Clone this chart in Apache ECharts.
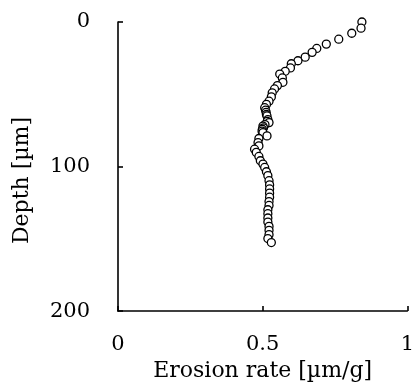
<!DOCTYPE html>
<html>
<head>
<meta charset="utf-8">
<script src="https://cdn.jsdelivr.net/npm/echarts@6/dist/echarts.min.js"></script>
<style>
html,body{margin:0;padding:0;background:#fff;}
#chart{width:417px;height:387px;}
</style>
</head>
<body>
<div id="chart"></div>
<script>
// Depth [µm] and erosion rate [µm/g]
var depth = [0, 4.3, 7.8, 11.9, 15.3, 18.3, 21, 24.3, 26.8, 28.9, 31.8, 34.1, 36, 38.7, 41.7, 44, 46.3, 49, 51.8, 54.8, 57, 59.3, 61, 62.5, 64, 65, 67.5, 68.8, 69.6, 71, 72, 73.2, 74.2, 75.5, 76.5, 78.8, 80.6, 83.4, 85.7, 88, 90.2, 93, 96, 98.3, 100.6, 103.6, 106.3, 109.8, 112.7, 115.5, 118.4, 121.2, 124.2, 126.9, 129.9, 132.6, 135.6, 138.4, 141.4, 144.1, 147.1, 149.8, 152.6];
var rate = [0.843, 0.840, 0.808, 0.763, 0.72, 0.687, 0.671, 0.647, 0.622, 0.599, 0.596, 0.578, 0.559, 0.568, 0.570, 0.551, 0.541, 0.533, 0.530, 0.522, 0.513, 0.507, 0.510, 0.512, 0.513, 0.515, 0.518, 0.516, 0.522, 0.508, 0.501, 0.503, 0.499, 0.498, 0.501, 0.515, 0.487, 0.484, 0.487, 0.472, 0.478, 0.487, 0.492, 0.501, 0.507, 0.513, 0.518, 0.522, 0.524, 0.524, 0.524, 0.524, 0.522, 0.522, 0.518, 0.518, 0.518, 0.518, 0.522, 0.522, 0.522, 0.518, 0.530];
var xTicks = [0, 0.5, 1];
var yTicks = [0, 100, 200];
var xTitle = 'Erosion rate [µm/g]';
var yTitle = 'Depth [µm]';

var points = depth.map(function (d, i) { return [rate[i], d]; });
var font = 'DejaVu Serif';
var chart = echarts.init(document.getElementById('chart'), null, {renderer: 'canvas'});
chart.setOption({
  animation: false,
  backgroundColor: '#fff',
  grid: {left: 118, right: 9, top: 22, bottom: 74},
  xAxis: {
    type: 'value', min: xTicks[0], max: xTicks[xTicks.length - 1], interval: 0.5,
    name: xTitle, nameLocation: 'middle', nameGap: 47,
    nameTextStyle: {fontFamily: font, fontSize: 22, color: '#000'},
    axisLine: {show: true, onZero: false, lineStyle: {color: '#000', width: 1.6}},
    axisTick: {show: true, inside: true, length: 5, lineStyle: {color: '#000', width: 1.6}},
    axisLabel: {fontFamily: font, fontSize: 21, color: '#000', margin: 23,
      formatter: function (v) { return String(v); }},
    splitLine: {show: false}
  },
  yAxis: {
    type: 'value', inverse: true, min: yTicks[0], max: yTicks[yTicks.length - 1], interval: 100,
    name: yTitle, nameLocation: 'middle', nameGap: 85,
    nameTextStyle: {fontFamily: font, fontSize: 22, color: '#000', padding: [0, 28, 0, 0]},
    axisLine: {show: true, onZero: false, lineStyle: {color: '#000', width: 1.6}},
    axisTick: {show: true, inside: true, length: 5, lineStyle: {color: '#000', width: 1.6}},
    axisLabel: {fontFamily: font, fontSize: 21, color: '#000', margin: 28},
    splitLine: {show: false}
  },
  series: [{
    type: 'scatter',
    data: points,
    symbol: 'circle',
    symbolSize: 8,
    itemStyle: {color: '#fff', borderColor: '#000', borderWidth: 1.3, opacity: 1}
  }]
});
</script>
</body>
</html>
